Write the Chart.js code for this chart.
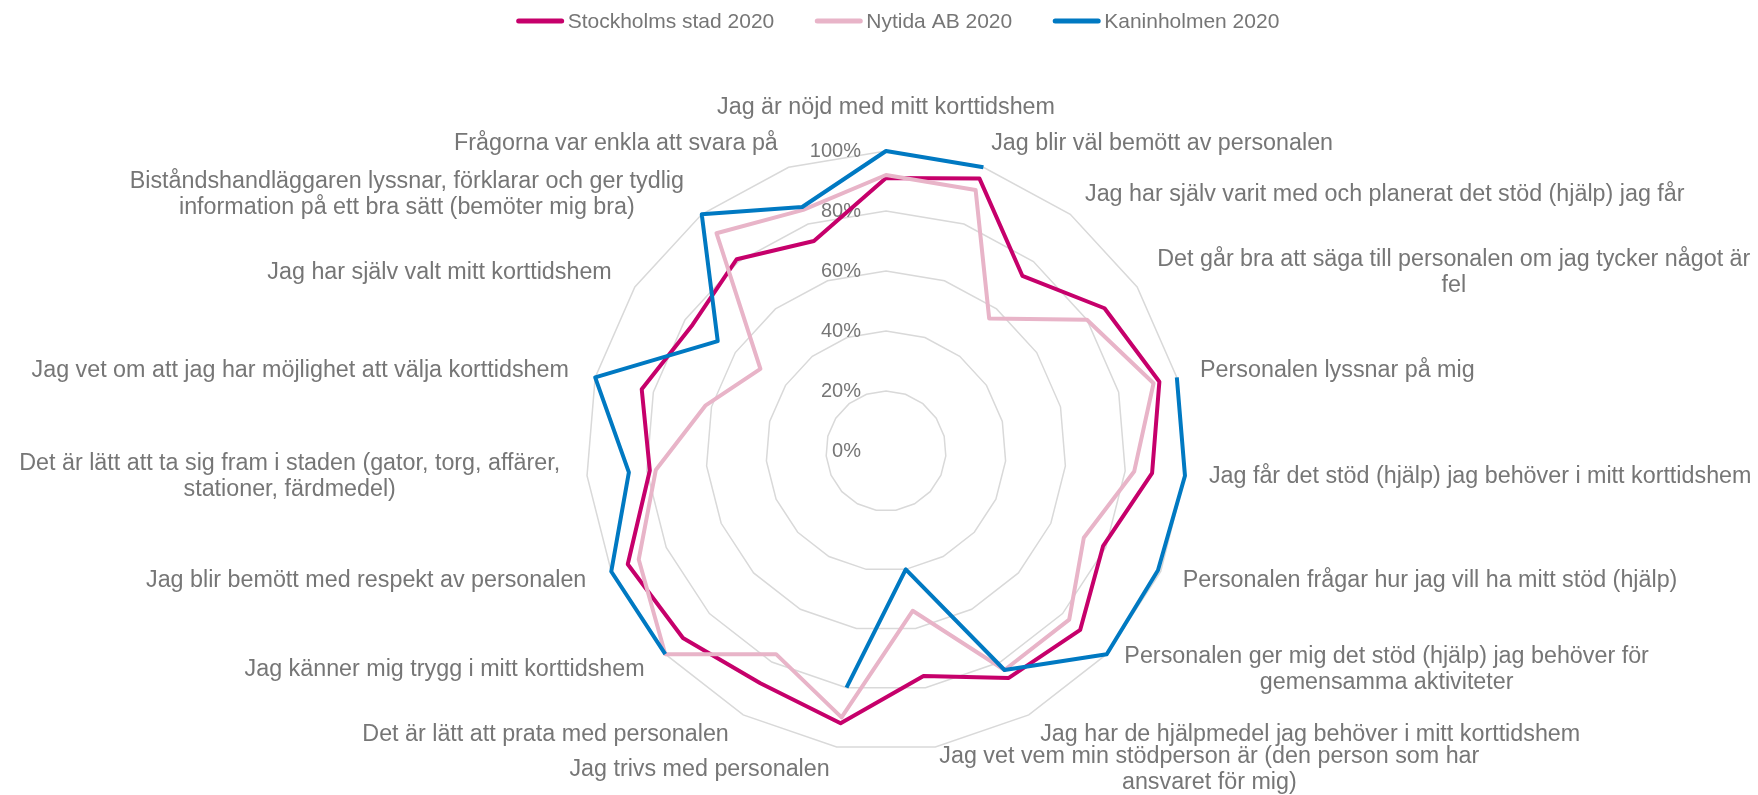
<!DOCTYPE html>
<html>
<head>
<meta charset="utf-8">
<script src="https://cdn.jsdelivr.net/npm/chart.js@4.4.1/dist/chart.umd.min.js"></script>
<style>
html,body{margin:0;padding:0;background:#ffffff;}
#wrap{width:1758px;height:795px;position:relative;}
canvas{display:block;}
</style>
</head>
<body>
<div id="wrap"><canvas id="c" width="1758" height="795"></canvas></div>
<script>
// ---- data ----
const categories = [
  'Jag är nöjd med mitt korttidshem',
  'Jag blir väl bemött av personalen',
  'Jag har själv varit med och planerat det stöd (hjälp) jag får',
  ['Det går bra att säga till personalen om jag tycker något är', 'fel'],
  'Personalen lyssnar på mig',
  'Jag får det stöd (hjälp) jag behöver i mitt korttidshem',
  'Personalen frågar hur jag vill ha mitt stöd (hjälp)',
  ['Personalen ger mig det stöd (hjälp) jag behöver för', 'gemensamma aktiviteter'],
  'Jag har de hjälpmedel jag behöver i mitt korttidshem',
  ['Jag vet vem min stödperson är (den person som har', 'ansvaret för mig)'],
  'Jag trivs med personalen',
  'Det är lätt att prata med personalen',
  'Jag känner mig trygg i mitt korttidshem',
  'Jag blir bemött med respekt av personalen',
  ['Det är lätt att ta sig fram i staden (gator, torg, affärer,', 'stationer, färdmedel)'],
  'Jag vet om att jag har möjlighet att välja korttidshem',
  'Jag har själv valt mitt korttidshem',
  ['Biståndshandläggaren lyssnar, förklarar och ger tydlig', 'information på ett bra sätt (bemöter mig bra)'],
  'Frågorna var enkla att svara på'
];
const seriesNames = ['Stockholms stad 2020', 'Nytida AB 2020', 'Kaninholmen 2020'];
const stockholmsStad = [91, 96, 74, 87, 94, 89, 79, 88, 86, 76, 92, 88, 92, 94, 79, 84, 77, 81, 74];
const nytidaAB      = [92, 92, 56, 80, 92, 83, 72, 83, 83, 54, 90, 77, 100, 90, 77, 62, 50, 92, 85];
const kaninholmen   = [100, 100, null, null, 100, 100, 99, 100, 83, 40, 80, null, 100, 100, 86, 100, 67, 100, 86];
const tickMin = 0, tickMax = 100, tickStep = 20;

// ---- styles ----
const colors = ['#C6006B', '#E8B4C8', '#0079C2'];
const TEXT = '#767676';
const FONT = '"Liberation Sans", Arial, sans-serif';

const textPlugin = {
  id: 'textPlugin',
  beforeDatasetsDraw(chart) {
    const s = chart.scales.r, ctx = chart.ctx;
    ctx.save();
    ctx.font = '20px ' + FONT;
    ctx.fillStyle = TEXT;
    ctx.textAlign = 'right';
    ctx.textBaseline = 'middle';
    s.ticks.forEach(t => {
      const d = s.getDistanceFromCenterForValue(t.value);
      ctx.fillText(t.value + '%', s.xCenter - 25, s.yCenter - d);
    });
    ctx.restore();
  },
  afterDatasetsDraw(chart) {
    const s = chart.scales.r, ctx = chart.ctx;
    ctx.save();
    ctx.font = '23.3px ' + FONT;
    ctx.fillStyle = TEXT;
    ctx.textAlign = 'center';
    ctx.textBaseline = 'middle';
    const lh = 26;
    chart.data.labels.forEach((lab, i) => {
      const lines = Array.isArray(lab) ? lab : [lab];
      const p = s.getPointPosition(i, s.drawingArea + 24);
      const sx = Math.sin(s.getIndexAngle(i));
      const w = Math.max(...lines.map(l => ctx.measureText(l).width));
      let cx = p.x, cy = p.y - 1;
      if (Math.abs(sx) < 0.01) { cy = p.y - 19; }
      else if (sx > 0) { cx = p.x + w / 2; }
      else { cx = p.x - 3 - w / 2; }
      const top = cy - (lines.length - 1) * lh / 2;
      lines.forEach((l, k) => ctx.fillText(l, cx, top + k * lh));
    });
    // legend
    ctx.font = '21px ' + FONT;
    ctx.textAlign = 'left';
    const lineLen = 47, gapT = 4, gapItem = 41;
    const ds = chart.data.datasets;
    const widths = ds.map(d => lineLen + gapT + ctx.measureText(d.label).width);
    const total = widths.reduce((a, b) => a + b, 0) + gapItem * (ds.length - 1);
    let x = 898 - total / 2;
    const y = 21;
    ds.forEach((d, k) => {
      ctx.strokeStyle = d.borderColor;
      ctx.lineWidth = 5;
      ctx.lineCap = 'round';
      ctx.beginPath();
      ctx.moveTo(x + 2, y);
      ctx.lineTo(x + lineLen - 2, y);
      ctx.stroke();
      ctx.fillStyle = TEXT;
      ctx.fillText(d.label, x + lineLen + gapT, y + 1);
      x += widths[k] + gapItem;
    });
    ctx.restore();
  }
};

const seriesData = [stockholmsStad, nytidaAB, kaninholmen];
new Chart(document.getElementById('c'), {
  type: 'radar',
  data: {
    labels: categories,
    datasets: seriesData.map((arr, k) => ({
      label: seriesNames[k],
      data: arr,
      borderColor: colors[k],
      backgroundColor: colors[k],
      borderWidth: 4,
      pointRadius: 0,
      pointHoverRadius: 0,
      fill: false,
      tension: 0,
      spanGaps: false,
      borderJoinStyle: 'round',
      borderCapStyle: 'butt',
      order: 3 - k
    }))
  },
  options: {
    responsive: false,
    devicePixelRatio: 1,
    animation: false,
    layout: { padding: { left: 586, right: 572, top: 151, bottom: 44 } },
    plugins: { legend: { display: false }, tooltip: { enabled: false } },
    scales: {
      r: {
        min: tickMin,
        max: tickMax,
        ticks: { stepSize: tickStep, display: false },
        grid: { color: '#D9D9D9', lineWidth: 1.5 },
        angleLines: { display: false },
        pointLabels: { display: false }
      }
    }
  },
  plugins: [textPlugin]
});
</script>
</body>
</html>
